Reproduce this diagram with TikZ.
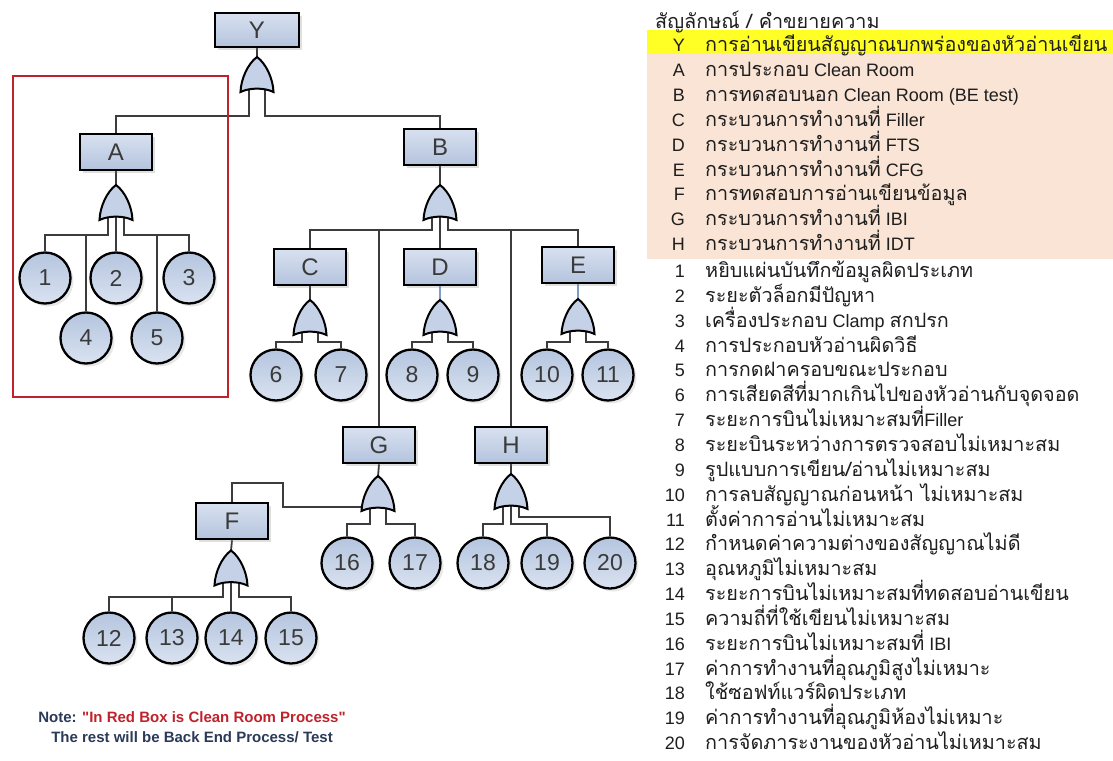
\documentclass[tikz,border=0pt]{standalone}
\usepackage{fontspec}
\setmainfont{Liberation Sans}
\newfontfamily\thai[Script=Thai, Scale=1.1]{Loma}
\newfontfamily\notefont[Ligatures=TeXOff]{Liberation Sans}
\usetikzlibrary{shadows}
\pgfdeclarelayer{bg}
\pgfsetlayers{bg,main}
\definecolor{wirec}{HTML}{3C3C3C}
\definecolor{boxtop}{HTML}{D8E1F0}
\definecolor{boxbot}{HTML}{B4C3DD}
\definecolor{evtop}{HTML}{B5C5DF}
\definecolor{evbot}{HTML}{D9E2F0}
\definecolor{gatec}{HTML}{C4D1E6}
\definecolor{glyph}{HTML}{3A3A3A}
\definecolor{cleanred}{HTML}{C0222B}
\definecolor{navy}{HTML}{2B3A58}
\definecolor{hilite}{HTML}{FFFF26}
\definecolor{peach}{HTML}{F9E4D5}
\definecolor{legtext}{HTML}{1E1E1E}
\definecolor{softblue}{HTML}{7F9BC8}
\tikzset{
  wire/.style={draw=wirec, line width=1.8pt},
  eventbox/.style={draw=black, line width=2.6pt, top color=boxtop, bottom color=boxbot,
    minimum width=72pt, minimum height=36pt, inner sep=0pt, text=glyph,
    font=\fontsize{24}{24}\selectfont,
    drop shadow={opacity=0.25, shadow xshift=3pt, shadow yshift=-3pt}},
  basic/.style={circle, draw=black, line width=2.3pt, top color=evtop, bottom color=evbot,
    minimum size=51pt, inner sep=0pt, text=glyph, font=\fontsize{23}{23}\selectfont,
    drop shadow={opacity=0.18, shadow xshift=3pt, shadow yshift=-3pt}},
  gatefill/.style={draw=black, line width=2pt, fill=gatec},
  orgate/.pic={
    \path[gatefill] (-16.5,17.5) .. controls (-16,4) and (-9,-11) .. (0,-17.5)
       .. controls (9,-11) and (16,4) .. (16.5,17.5)
       .. controls (7,13) and (-7,13) .. cycle;
    \coordinate (-top) at (0,-17);
    \coordinate (-bot) at (0,14);
    \coordinate (-l) at (-8,15);
    \coordinate (-r) at (8,15);
    \coordinate (-side) at (-15.5,13.5);
  },
  cleanroom/.style={draw=cleanred, line width=2pt, minimum width=215pt, minimum height=321pt, inner sep=0pt},
  lglab/.style={anchor=base east, inner sep=0pt, text=legtext, font=\fontsize{18}{20}\selectfont},
  lgtxt/.style={anchor=base west, inner sep=0pt, text=legtext, font=\fontsize{18}{20}\selectfont},
}
\newcommand\lrow[4]{%
  \node[lglab] (k#1) at (685,#2+6.5) {#3};
  \node[lgtxt] (t#1) at (705,#2+6.5) {#4};}
\begin{document}
\begin{tikzpicture}[x=1pt,y=-1pt]
\useasboundingbox (0,0) rectangle (1113,760);
\begin{pgfonlayer}{bg}
  \fill[white] (0,0) rectangle (1113,760);
\end{pgfonlayer}

% ---------- legend ----------
\fill[peach] (647,54) rectangle (1113,259);
\fill[hilite] (647,30) rectangle (1113,54);
\node[lgtxt] (ltitle) at (655,28.5) {\thai สัญลักษณ์ / คำขยายความ};
\lrow{Y}{45}{Y}{\thai การอ่านเขียนสัญญาณบกพร่องของหัวอ่านเขียน}
\lrow{A}{70}{A}{{\thai การประกอบ} Clean Room}
\lrow{B}{94.9}{B}{{\thai การทดสอบนอก} Clean Room (BE test)}
\lrow{C}{119.8}{C}{{\thai กระบวนการทำงานที่} Filler}
\lrow{D}{144.6}{D}{{\thai กระบวนการทำงานที่} FTS}
\lrow{E}{169.5}{E}{{\thai กระบวนการทำงานที่} CFG}
\lrow{F}{194.4}{F}{\thai การทดสอบการอ่านเขียนข้อมูล}
\lrow{G}{219.2}{G}{{\thai กระบวนการทำงานที่} IBI}
\lrow{H}{244.1}{H}{{\thai กระบวนการทำงานที่} IDT}
\lrow{1}{271}{1}{\thai หยิบแผ่นบันทึกข้อมูลผิดประเภท}
\lrow{2}{295.8}{2}{\thai ระยะตัวล็อกมีปัญหา}
\lrow{3}{320.7}{3}{{\thai เครื่องประกอบ} Clamp {\thai สกปรก}}
\lrow{4}{345.5}{4}{\thai การประกอบหัวอ่านผิดวิธี}
\lrow{5}{370.4}{5}{\thai การกดฝาครอบขณะประกอบ}
\lrow{6}{395.2}{6}{\thai การเสียดสีที่มากเกินไปของหัวอ่านกับจุดจอด}
\lrow{7}{420.1}{7}{{\thai ระยะการบินไม่เหมาะสมที่}Filler}
\lrow{8}{444.9}{8}{\thai ระยะบินระหว่างการตรวจสอบไม่เหมาะสม}
\lrow{9}{469.8}{9}{\thai รูปแบบการเขียน/อ่านไม่เหมาะสม}
\lrow{10}{494.6}{10}{\thai การลบสัญญาณก่อนหน้า ไม่เหมาะสม}
\lrow{11}{519.5}{11}{\thai ตั้งค่าการอ่านไม่เหมาะสม}
\lrow{12}{544.3}{12}{\thai กำหนดค่าความต่างของสัญญาณไม่ดี}
\lrow{13}{569.2}{13}{\thai อุณหภูมิไม่เหมาะสม}
\lrow{14}{594}{14}{\thai ระยะการบินไม่เหมาะสมที่ทดสอบอ่านเขียน}
\lrow{15}{618.9}{15}{\thai ความถี่ที่ใช้เขียนไม่เหมาะสม}
\lrow{16}{643.7}{16}{{\thai ระยะการบินไม่เหมาะสมที่} IBI}
\lrow{17}{668.6}{17}{\thai ค่าการทำงานที่อุณภูมิสูงไม่เหมาะ}
\lrow{18}{693.4}{18}{\thai ใช้ซอฟท์แวร์ผิดประเภท}
\lrow{19}{718.3}{19}{\thai ค่าการทำงานที่อุณภูมิห้องไม่เหมาะ}
\lrow{20}{743.1}{20}{\thai การจัดภาระงานของหัวอ่านไม่เหมาะสม}

% ---------- clean room frame ----------
\node[cleanroom] (frame) at (120,236) {};

% ---------- events ----------
\node[eventbox, minimum width=84pt, minimum height=34pt] (Y) at (257,30) {Y};
\node[eventbox] (A) at (116,152) {A};
\node[eventbox] (B) at (440,147) {B};
\node[eventbox] (C) at (310,267) {C};
\node[eventbox] (D) at (440,267) {D};
\node[eventbox] (E) at (578,265) {E};
\node[eventbox] (G) at (379,445) {G};
\node[eventbox] (H) at (511,445) {H};
\node[eventbox] (F) at (232,521) {F};

% ---------- gates ----------
\pic (gY) at (257,74.5) {orgate};
\pic (gA) at (116,202.5) {orgate};
\pic (gB) at (440,202.5) {orgate};
\pic (gC) at (310,317.5) {orgate};
\pic (gD) at (440,317.5) {orgate};
\pic (gE) at (578,316.5) {orgate};
\pic (gG) at (378,493.5) {orgate};
\pic (gH) at (511,491.5) {orgate};
\pic (gF) at (231,568) {orgate};

% ---------- basic events ----------
\node[basic] (c1) at (45,278) {1};
\node[basic] (c2) at (116,278) {2};
\node[basic] (c3) at (189,278) {3};
\node[basic] (c4) at (86,338) {4};
\node[basic] (c5) at (157,338) {5};
\node[basic] (c6) at (276,375) {6};
\node[basic] (c7) at (341,375) {7};
\node[basic] (c8) at (412,375) {8};
\node[basic] (c9) at (473,375) {9};
\node[basic] (c10) at (547,375) {10};
\node[basic] (c11) at (608,375) {11};
\node[basic] (c12) at (109,638) {12};
\node[basic] (c13) at (172,638) {13};
\node[basic] (c14) at (231,638) {14};
\node[basic] (c15) at (291,638) {15};
\node[basic] (c16) at (347,563) {16};
\node[basic] (c17) at (415,563) {17};
\node[basic] (c18) at (483,563) {18};
\node[basic] (c19) at (547,563) {19};
\node[basic] (c20) at (610,563) {20};

% ---------- note ----------
\node[align=center, text=navy, font=\notefont\bfseries\fontsize{15}{20}\selectfont, inner sep=0pt]
  (note) at (192,727) {Note: \textcolor{cleanred}{"In Red Box is Clean Room Process"}\\The rest will be Back End Process/ Test};

% ---------- wiring ----------
\coordinate (busY) at (0,116);
\coordinate (busA) at (0,235);
\coordinate (busB) at (0,230);
\coordinate (busC) at (0,342);
\coordinate (busG) at (0,524);
\coordinate (busH) at (0,517);
\coordinate (busF) at (0,597);
\coordinate (jog) at (283,483);
\begin{pgfonlayer}{bg}
  \draw[wire] (Y.south) -- (gY-top);
  \draw[wire] (gY-l) -- (gY-l |- busY) -| (A.north);
  \draw[wire] (gY-r) -- (gY-r |- busY) -| (B.north);

  \draw[wire] (A.south) -- (gA-top);
  \draw[wire] (gA-l) -- (gA-l |- busA) -| (c1.north);
  \draw[wire] (c4.north) -- (c4.north |- busA);
  \draw[wire] (gA-bot) -- (c2.north);
  \draw[wire] (gA-r) -- (gA-r |- busA) -| (c3.north);
  \draw[wire] (c5.north) -- (c5.north |- busA);

  \draw[wire] (B.south) -- (gB-top);
  \draw[wire] (gB-l) -- (gB-l |- busB) -| (C.north);
  \draw[wire] (G.north) -- (G.north |- busB);
  \draw[wire] (gB-bot) -- (D.north);
  \draw[wire] (gB-r) -- (gB-r |- busB) -| (E.north);
  \draw[wire] (H.north) -- (H.north |- busB);

  \draw[wire] (C.south) -- (gC-top);
  \draw[wire] (gC-l) -- (gC-l |- busC) -| (c6.north);
  \draw[wire] (gC-r) -- (gC-r |- busC) -| (c7.north);

  \draw[wire, draw=softblue, line width=1.2pt] (D.south) -- (gD-top);
  \draw[wire] (gD-l) -- (gD-l |- busC) -| (c8.north);
  \draw[wire] (gD-r) -- (gD-r |- busC) -| (c9.north);

  \draw[wire, draw=softblue, line width=1.2pt] (E.south) -- (gE-top);
  \draw[wire] (gE-l) -- (gE-l |- busC) -| (c10.north);
  \draw[wire] (gE-r) -- (gE-r |- busC) -| (c11.north);

  \draw[wire] (G.south) -- (gG-top);
  \draw[wire] (gG-l) -- (gG-l |- busG) -| (c16.north);
  \draw[wire] (gG-r) -- (gG-r |- busG) -| (c17.north);
  \draw[wire] (F.north) |- (jog) |- (gG-side);

  \draw[wire] (H.south) -- (gH-top);
  \draw[wire] (gH-l) -- (gH-l |- busG) -| (c18.north);
  \draw[wire] (gH-bot) -- (gH-bot |- busG) -| (c19.north);
  \draw[wire] (gH-r) -- (gH-r |- busH) -| (c20.north);

  \draw[wire] (F.south) -- (gF-top);
  \draw[wire] (gF-l) -- (gF-l |- busF) -| (c12.north);
  \draw[wire] (c13.north) -- (c13.north |- busF);
  \draw[wire] (gF-bot) -- (c14.north);
  \draw[wire] (gF-r) -- (gF-r |- busF) -| (c15.north);
\end{pgfonlayer}
\end{tikzpicture}
\end{document}
